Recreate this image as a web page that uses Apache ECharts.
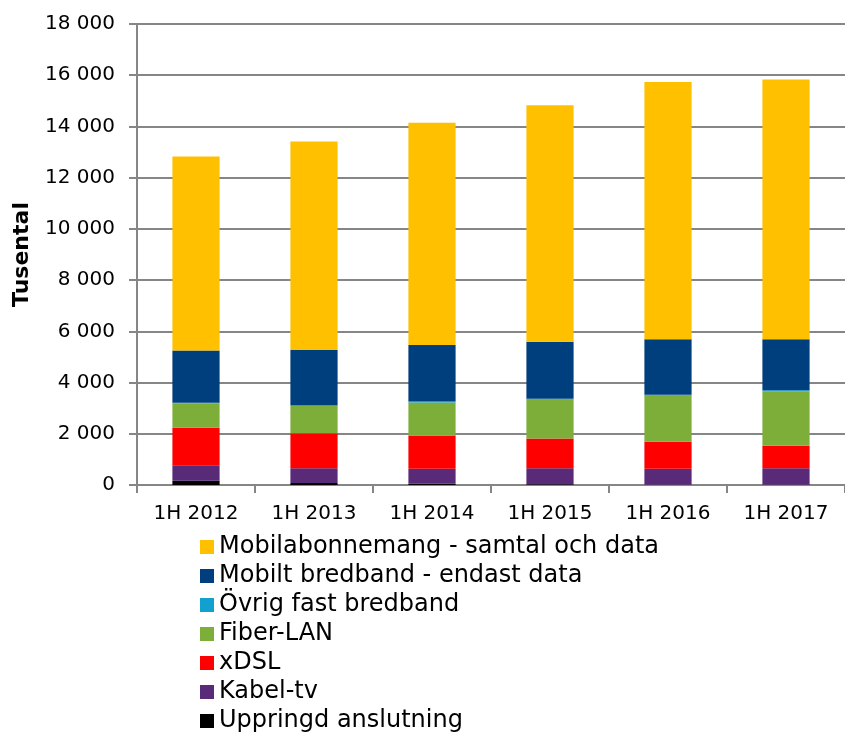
<!DOCTYPE html>
<html lang="sv" style="height: 100%">
<head>
  <meta charset="utf-8">
</head>
<body style="height: 100%; margin: 0; background: #fff">
  <div id="container" style="width: 845px; height: 733px"></div>

  <script type="text/javascript" src="https://fastly.jsdelivr.net/npm/echarts@6/dist/echarts.min.js"></script>

  <script type="text/javascript">
    var dom = document.getElementById('container');
    var myChart = echarts.init(dom, null, { renderer: 'canvas' });

    // halvår
    const categories = ['1H 2012', '1H 2013', '1H 2014', '1H 2015', '1H 2016', '1H 2017'];

    // värden i tusental, nedifrån och upp i stapeln
    const uppringd = [170, 80, 50, 30, 10, 5];
    const kabeltv = [600, 570, 585, 620, 625, 645];
    const xdsl = [1465, 1375, 1300, 1170, 1055, 885];
    const fiberLan = [945, 1060, 1290, 1510, 1795, 2120];
    const ovrigFast = [30, 30, 35, 35, 40, 40];
    const mobiltBredband = [2040, 2160, 2210, 2225, 2170, 2000];
    const mobilabonnemang = [7580, 8140, 8670, 9240, 10040, 10140];

    const legendOrder = [
      'Mobilabonnemang - samtal och data',
      'Mobilt bredband - endast data',
      'Övrig fast bredband',
      'Fiber-LAN',
      'xDSL',
      'Kabel-tv',
      'Uppringd anslutning'
    ];

    const font = 'DejaVu Sans, Verdana, sans-serif';

    function fmt(v) {
      return String(v).replace(/\B(?=(\d{3})+(?!\d))/g, ' ');
    }

    function bar(name, data, color) {
      return {
        name: name,
        type: 'bar',
        stack: 'total',
        barWidth: '40%',
        data: data,
        itemStyle: { color: color },
        emphasis: { disabled: true }
      };
    }

    var option = {
      animation: false,
      textStyle: { fontFamily: font },
      grid: {
        left: 137,
        right: -8,
        top: 24,
        bottom: 248,
        containLabel: false
      },
      legend: {
        orient: 'vertical',
        left: 200,
        top: 535,
        padding: 0,
        height: 200,
        itemWidth: 14,
        itemHeight: 14,
        itemGap: 5,
        icon: 'rect',
        textStyle: { fontFamily: font, fontSize: 24, lineHeight: 24, color: '#000' },
        data: legendOrder
      },
      xAxis: {
        type: 'category',
        data: categories,
        axisLine: { lineStyle: { color: '#868686', width: 2 } },
        axisTick: { show: true, length: 8, lineStyle: { color: '#868686', width: 2 } },
        axisLabel: { color: '#000', fontSize: 20, fontFamily: font, margin: 19 }
      },
      yAxis: {
        type: 'value',
        min: 0,
        max: 18000,
        interval: 2000,
        name: 'Tusental',
        nameLocation: 'middle',
        nameGap: 104,
        nameTextStyle: { fontFamily: font, fontSize: 22, fontWeight: 'bold', color: '#000' },
        axisLine: { show: true, lineStyle: { color: '#868686', width: 2 } },
        axisTick: { show: true, length: 8, lineStyle: { color: '#868686', width: 2 } },
        splitLine: { lineStyle: { color: '#868686', width: 2 } },
        axisLabel: {
          color: '#000',
          fontSize: 20,
          fontFamily: font,
          margin: 22,
          formatter: fmt
        }
      },
      series: [
        bar('Uppringd anslutning', uppringd, '#000000'),
        bar('Kabel-tv', kabeltv, '#582A78'),
        bar('xDSL', xdsl, '#FF0000'),
        bar('Fiber-LAN', fiberLan, '#7CAE39'),
        bar('Övrig fast bredband', ovrigFast, '#12A0CF'),
        bar('Mobilt bredband - endast data', mobiltBredband, '#003F7D'),
        bar('Mobilabonnemang - samtal och data', mobilabonnemang, '#FFC000')
      ]
    };

    myChart.setOption(option);
    window.addEventListener('resize', myChart.resize);
  </script>
</body>
</html>
